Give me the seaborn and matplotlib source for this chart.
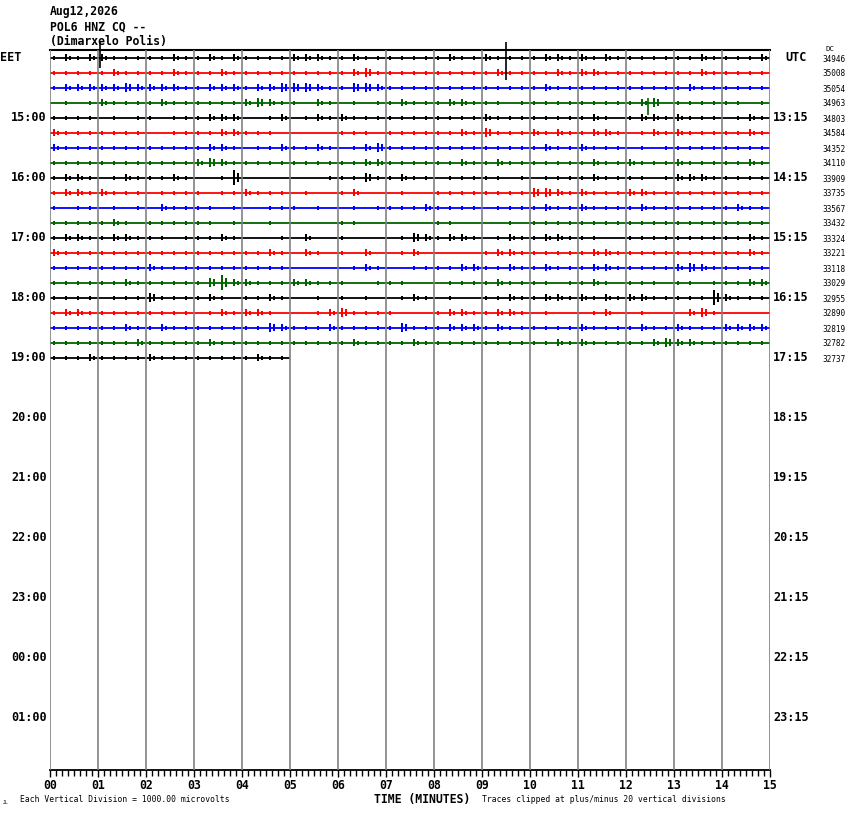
import matplotlib
matplotlib.use("Agg")
import matplotlib.pyplot as plt
import matplotlib.transforms as mtransforms
import pandas as pd
import seaborn as sns

# header text
date_label = "Aug12,2026"
station_label = "POL6 HNZ CQ --"
site_label = "(Dimarxelo Polis)"

# time labels down the sides (row index of each label)
label_rows = [0, 4, 8, 12, 16, 20, 24, 28, 32, 36, 40, 44]
left_labels = ["EET", "15:00", "16:00", "17:00", "18:00", "19:00", "20:00",
               "21:00", "22:00", "23:00", "00:00", "01:00"]
right_labels = ["UTC", "13:15", "14:15", "15:15", "16:15", "17:15", "18:15",
                "19:15", "20:15", "21:15", "22:15", "23:15"]

# DC offset printed at the right of each trace
dc_values = [34946, 35008, 35054, 34963, 34803, 34584, 34352, 34110, 33909,
             33735, 33567, 33432, 33324, 33221, 33118, 33029, 32955, 32890,
             32819, 32782, 32737]

trace_colors = ["black", "red", "blue", "#006400"]

# noise level every quarter minute (0 flat .. 4 big), one string per trace row
trace_levels = [
    "1212 2111 1121 1212 1111 2221 1211 1111 1211 2111 1221 2121 1111 1121 1112",
    "1111 1211 1121 1121 1111 1111 1231 1111 1111 1211 1121 2211 1111 1121 1111",
    "1222 2232 2221 1222 1223 3321 1332 1111 1111 1111 1211 1111 1111 1211 1111",
    "0101 2111 1211 1111 2321 1021 0101 1211 1221 1101 1111 1111 1230 1111 1101",
    "1111 0101 1011 1222 0012 0121 2111 1111 1111 2111 1111 1210 1221 2111 0121",
    "2111 1111 0011 1122 1110 0000 1110 1111 1121 3111 2121 1221 0121 2111 1121",
    "2111 1111 1111 1221 0112 1121 0123 1111 1111 1111 1211 2111 0101 1111 1111",
    "1111 1111 1111 2321 1111 1111 1122 1111 1121 1211 1111 1211 2111 2111 1121",
    "1221 0121 1121 0014 0000 0001 1131 1211 0111 1101 0111 1211 1101 2221 1111",
    "1221 2111 0111 1011 2111 0100 1200 0100 1111 1111 3321 2111 2211 1111 1111",
    "1011 0101 0211 1101 0011 1010 0101 1112 1111 0111 1211 2111 1211 1111 1211",
    "1111 1210 1111 1101 0010 0000 1100 0000 1100 0010 1111 1111 1111 1111 1111",
    "1221 1221 1101 1121 0001 0200 1000 0132 1221 0121 1221 1100 1111 1111 1121",
    "2111 1111 1111 1111 1121 0210 1020 0120 0000 1221 1111 1221 1111 1111 1121",
    "1111 1111 2111 1111 1111 0000 0121 0011 1122 1121 1211 1221 1111 2321 1111",
    "1111 1121 1111 1342 2111 2211 1001 1100 0111 1211 1101 1210 1110 1101 1122",
    "1111 0111 3111 1210 1121 0010 1010 0121 0100 1121 1221 2121 2211 1114 2111",
    "1221 1111 1111 0121 2210 0012 3111 1000 1221 1221 0100 0120 0100 0231 0000",
    "1111 1121 1211 1111 1132 1112 1111 1311 1222 1211 1111 2111 1211 2111 2222",
    "1111 1112 1111 1211 1111 1111 1211 1121 1111 1111 1121 2111 1123 2211 1111",
    "1112 1111 2111 1111 1211",
]

# spikes that stand out: row, minute, pixels above and below the trace line
spike_rows = [0, 0, 3]
spike_minutes = [1.05, 9.5, 12.45]
spike_up = [15.5, 15.5, 5.0]
spike_down = [10.5, 22.5, 12.5]

ROW_PX = 15.0
AMP_PX = [0.0, 2.0, 3.2, 4.8, 7.5]

points = []
for r, levels in enumerate(trace_levels):
    levels = levels.replace(" ", "")
    base = r + 0.5
    color = trace_colors[r % 4]
    for i, ch in enumerate(levels):
        lev = int(ch)
        t0 = i * 0.25
        pts = [(t0, base)]
        # a full-size wiggle and a smaller one inside each quarter minute
        for frac, amp in ((0.3, AMP_PX[lev]), (0.7, AMP_PX[max(lev - 1, 0)])):
            tc = t0 + 0.25 * frac
            a = amp / ROW_PX
            pts += [(tc, base), (tc, base - a), (tc, base + a), (tc, base)]
        pts.append((t0 + 0.25, base))
        for x, y in pts:
            points.append({"minute": x, "y": y, "row": r, "color": color})
df = pd.DataFrame(points)

sns.set_theme(style="white")
plt.rcParams["font.family"] = ["DejaVu Sans Mono", "DejaVu Sans"]
plt.rcParams["text.color"] = "black"
plt.rcParams["xtick.color"] = "black"

fig = plt.figure(figsize=(8.5, 8.14), dpi=100)
ax = fig.add_axes([50 / 850, 1 - 770 / 814, 720 / 850, 720 / 814])

sns.lineplot(data=df, x="minute", y="y", hue="color", units="row",
             estimator=None, sort=False, palette={c: c for c in trace_colors},
             legend=False, linewidth=1.3, solid_capstyle="butt",
             solid_joinstyle="miter", ax=ax)

for r, m, up, dn in zip(spike_rows, spike_minutes, spike_up, spike_down):
    ax.vlines(m, r + 0.5 - up / ROW_PX, r + 0.5 + dn / ROW_PX,
              color=trace_colors[r % 4], lw=1.2, clip_on=False, zorder=4)

ax.vlines(range(16), 0, 48, color="#808080", lw=1.2, zorder=3)

ax.set_xlim(0, 15)
ax.set_ylim(48, 0)
ax.set_xlabel("")
ax.set_ylabel("")
ax.set_yticks([])
ax.set_xticks(range(16))
ax.set_xticklabels([f"{m:02d}" for m in range(16)], fontweight="bold", fontsize=8.3)
ax.set_xticks([i / 8 for i in range(121)], minor=True)
ax.tick_params(axis="x", which="major", direction="out", length=5, width=1,
               color="black", pad=1.5, bottom=True)
ax.tick_params(axis="x", which="minor", direction="out", length=4.5, width=1,
               color="black", bottom=True)
ax.spines["left"].set_visible(False)
ax.spines["right"].set_visible(False)
ax.spines["top"].set_color("black")
ax.spines["bottom"].set_color("black")
ax.spines["top"].set_linewidth(1.5)
ax.spines["bottom"].set_linewidth(1.3)

trans = mtransforms.blended_transform_factory(ax.transAxes, ax.transData)
for row, lab in zip(label_rows, left_labels):
    if row == 0:
        ax.text(-50 / 720, row + 0.5, lab, transform=trans, ha="left",
                va="center", fontsize=8.5, fontweight="bold")
    else:
        ax.text(-3 / 720, row + 0.5, lab, transform=trans, ha="right",
                va="center", fontsize=8.5, fontweight="bold")
for row, lab in zip(label_rows, right_labels):
    x = 15 / 720 if row == 0 else 3 / 720
    ax.text(1 + x, row + 0.5, lab, transform=trans, ha="left",
            va="center", fontsize=8.5, fontweight="bold")
for r, dc in enumerate(dc_values):
    ax.text(1 + 52 / 720, r + 0.6, str(dc), transform=trans, ha="left",
            va="center", fontsize=5.6)
ax.text(1 + 55 / 720, -0.05, "DC", transform=trans, ha="left", va="center",
        fontsize=5.3)

fig.text(50 / 850, 1 - 12 / 814, date_label, ha="left", va="center",
         fontsize=8.3, fontweight="bold")
fig.text(50 / 850, 1 - 27 / 814, station_label, ha="left", va="center",
         fontsize=8.3, fontweight="bold")
fig.text(50 / 850, 1 - 42 / 814, site_label, ha="left", va="center",
         fontsize=8.3, fontweight="bold")

fig.text(422 / 850, 1 - 800 / 814, "TIME (MINUTES)", ha="center", va="center",
         fontsize=8.3, fontweight="bold")
fig.text(20 / 850, 1 - 800 / 814, "Each Vertical Division = 1000.00 microvolts",
         ha="left", va="center", fontsize=5.8)
fig.text(482 / 850, 1 - 800 / 814, "Traces clipped at plus/minus 20 vertical divisions",
         ha="left", va="center", fontsize=5.8)
fig.text(3 / 850, 1 - 802 / 814, "JL", ha="left", va="center", fontsize=3.5)

fig.savefig("out.png", dpi=100, facecolor="white")
